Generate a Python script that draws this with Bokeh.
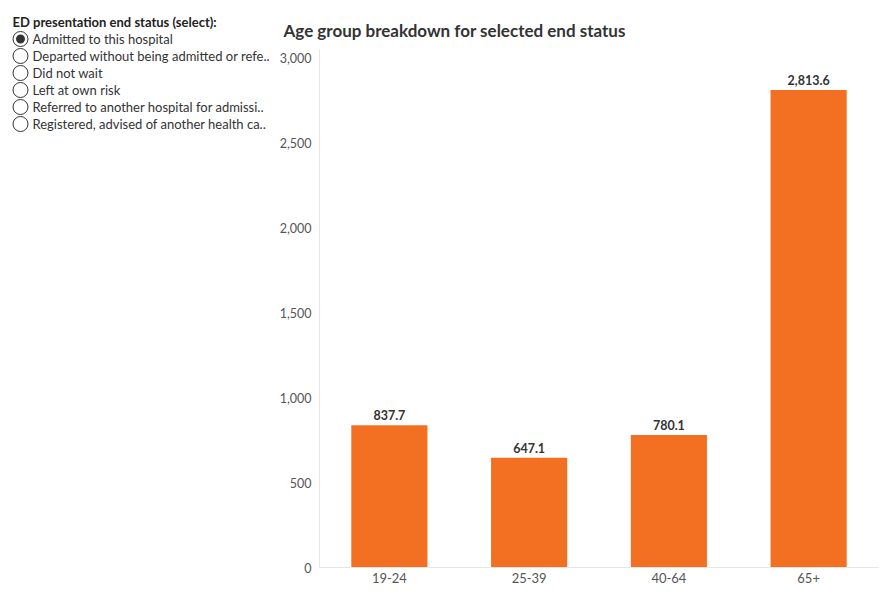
from bokeh.plotting import figure
from bokeh.models import ColumnDataSource, LabelSet, Range1d, NumeralTickFormatter
from bokeh.layouts import row
from bokeh.core.properties import value
from bokeh.embed import file_html
from bokeh.resources import INLINE

# Selector options and current selection
selector_title = "ED presentation end status (select):"
status_options = [
    "Admitted to this hospital",
    "Departed without being admitted or refe..",
    "Did not wait",
    "Left at own risk",
    "Referred to another hospital for admissi..",
    "Registered, advised of another health ca..",
]
selected_index = 0

# Age group values for the selected end status
age_groups = ["19-24", "25-39", "40-64", "65+"]
counts = [837.7, 647.1, 780.1, 2813.6]

FONT = "Lato"
BAR_COLOR = "#F37022"

# ---- left panel: radio-style selector drawn in pixel coordinates ----
side = figure(width=275, height=600, x_range=Range1d(0, 275), y_range=Range1d(600, 0),
              x_axis_location=None, y_axis_location=None, toolbar_location=None,
              output_backend="svg", min_border=0, outline_line_color=None)
side.grid.visible = False
side.frame_align = False

side.text(x=[12], y=[21], text=[selector_title], text_font=value(FONT),
          text_font_size="13px", text_font_style="bold", text_color="#222222",
          text_baseline="middle")

ys = [38.5 + 17 * i for i in range(len(status_options))]
side.text(x=[32] * len(status_options), y=ys, text=status_options, text_font=value(FONT),
          text_font_size="13px", text_color="#333333", text_baseline="middle")
side.circle(x=[20] * len(status_options), y=ys, radius=7.5, fill_color="white",
            line_color="#333333", line_width=1)
side.circle(x=[20], y=[ys[selected_index]], radius=4.5, fill_color="#333333",
            line_color=None)

# ---- bar chart ----
labels = [f"{v:,.1f}" for v in counts]
src = ColumnDataSource(dict(group=age_groups, count=counts, label=labels))

p = figure(width=615, height=600, x_range=age_groups, y_range=Range1d(0, 3052),
           toolbar_location=None, output_backend="svg",
           title="Age group breakdown for selected end status",
           min_border_left=44, min_border_right=12, min_border_top=49,
           min_border_bottom=33, outline_line_color=None)
p.frame_align = False

p.title.text_font = FONT
p.title.text_font_size = "17px"
p.title.text_font_style = "bold"
p.title.text_color = "#333333"
p.title.align = "left"
p.title.offset = -36
p.title.standoff = 17

p.vbar(x="group", top="count", width=0.545, source=src, fill_color=BAR_COLOR,
       line_color=None)

p.add_layout(LabelSet(x="group", y="count", text="label", source=src,
                      text_align="center", text_baseline="bottom", y_offset=5,
                      text_font=value(FONT), text_font_size="12.5px",
                      text_font_style="bold", text_color="#333333"))

p.grid.visible = False
p.yaxis.ticker = [0, 500, 1000, 1500, 2000, 2500, 3000]
p.yaxis.formatter = NumeralTickFormatter(format="0,0")
for ax in (p.xaxis[0], p.yaxis[0]):
    ax.axis_line_color = "#e6e6e6"
    ax.major_tick_line_color = None
    ax.minor_tick_line_color = None
    ax.major_tick_out = 0
    ax.major_tick_in = 0
    ax.minor_tick_out = 0
    ax.minor_tick_in = 0
    ax.major_label_text_font = FONT
    ax.major_label_text_color = "#555555"
p.yaxis.major_label_text_font_size = "12.5px"
p.xaxis.major_label_text_font_size = "13px"
p.yaxis.major_label_standoff = 8
p.xaxis.major_label_standoff = 5

layout = row(side, p, spacing=0)

open("out.html", "w").write(file_html(layout, INLINE))
